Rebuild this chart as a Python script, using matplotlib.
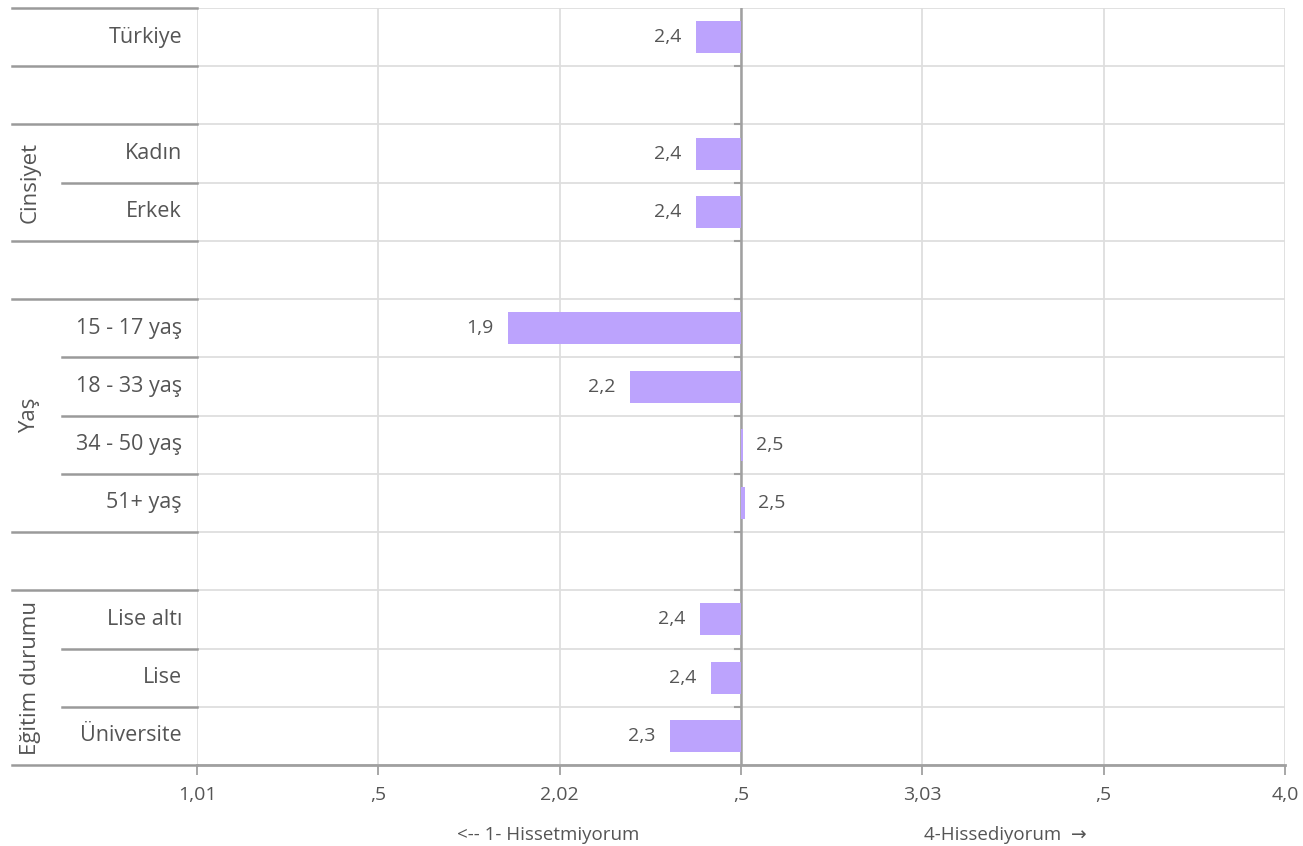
import numpy as np
import matplotlib
matplotlib.use("Agg")
import matplotlib.pyplot as plt
import matplotlib.transforms as mtransforms

plt.rcParams['font.family'] = ['Open Sans', 'DejaVu Sans']

# Data (blank rows are spacers between groups)
rows = ['Türkiye', '', 'Kadın', 'Erkek', '',
        '15 - 17 yaş', '18 - 33 yaş', '34 - 50 yaş', '51+ yaş', '',
        'Lise altı', 'Lise', 'Üniversite']
values = [2.376, np.nan, 2.376, 2.376, np.nan,
          1.858, 2.194, 2.505, 2.511, np.nan,
          2.387, 2.417, 2.304]
groups = ['Cinsiyet', 'Yaş', 'Eğitim durumu']
group_rows = [(2, 3), (5, 8), (10, 12)]
tick_vals = [1.0, 1.5, 2.0, 2.5, 3.0, 3.5, 4.0]
tick_labels = ['1,01', ',5', '2,02', ',5', '3,03', ',5', '4,0']
baseline = 2.5

text_col = '#555555'
bar_col = '#bca3fd'
grid_col = '#dedede'
sep_col = '#9a9a9a'

fig = plt.figure(figsize=(13.03, 8.46), dpi=100)
ax = fig.add_axes([0.1512, 0.0957, 0.8350, 0.8948])

y = np.arange(len(rows))
vals = np.array(values)
ax.barh(y, vals - baseline, left=baseline, height=0.55, color=bar_col, zorder=3)

ax.set_xlim(1.0, 4.0)
ax.set_ylim(len(rows) - 0.5, -0.5)

# grid
for xv in tick_vals:
    ax.axvline(xv, color=grid_col, lw=1.3, zorder=1)
for b in np.arange(len(rows) + 1) - 0.5:
    ax.axhline(b, color=grid_col, lw=1.3, zorder=1)
ax.axvline(baseline, color='#a0a0a0', lw=1.8, zorder=2)
for b in np.arange(1, len(rows)) - 0.5:
    ax.plot([baseline - 0.016, baseline], [b, b], color='#a0a0a0', lw=1.5, zorder=2)

# value labels
for yi, v in zip(y, vals):
    if np.isnan(v):
        continue
    lab = f"{v:.1f}".replace('.', ',')
    if v < baseline:
        ax.text(v - 0.04, yi, lab, ha='right', va='center', fontsize=14, color=text_col)
    else:
        ax.text(v + 0.035, yi, lab, ha='left', va='center', fontsize=14, color=text_col)

for s in ['top', 'right', 'left']:
    ax.spines[s].set_visible(False)
ax.spines['bottom'].set_color('#a0a0a0')
ax.spines['bottom'].set_linewidth(2)
ax.spines['bottom'].set_zorder(5)

ax.set_yticks([])
ax.set_xticks(tick_vals)
ax.set_xticklabels(tick_labels, fontsize=14, color=text_col)
ax.tick_params(axis='x', direction='out', length=7, width=1.3, color='#a0a0a0', pad=8)

# left label table
trans = mtransforms.blended_transform_factory(ax.transAxes, ax.transData)
for yi, r in zip(y, rows):
    if r:
        ax.text(-0.0138, yi, r, transform=trans, ha='right', va='center',
                fontsize=15.5, color=text_col)
full_seps = [0, 1, 2, 4, 5, 9, 10, 13]
inner_seps = [3, 6, 7, 8, 11, 12]
for b in full_seps:
    ax.plot([-0.170, 0], [b - 0.5, b - 0.5], transform=trans, color=sep_col,
            lw=1.8, clip_on=False)
for b in inner_seps:
    ax.plot([-0.124, 0], [b - 0.5, b - 0.5], transform=trans, color=sep_col,
            lw=1.8, clip_on=False)
for g, (a, b) in zip(groups, group_rows):
    ax.text(-0.1535, (a + b) / 2, g, transform=trans, rotation=90, ha='center',
            va='center', fontsize=16, color=text_col)

# direction hints
fig.text(548 / 1303, 1 - 835 / 846, '<-- 1- Hissetmiyorum', ha='center', va='center',
         fontsize=13.5, color=text_col)
fig.text(1005 / 1303, 1 - 835 / 846, '4-Hissediyorum  →', ha='center', va='center',
         fontsize=13.5, color=text_col)

fig.savefig('out.png', dpi=100)
